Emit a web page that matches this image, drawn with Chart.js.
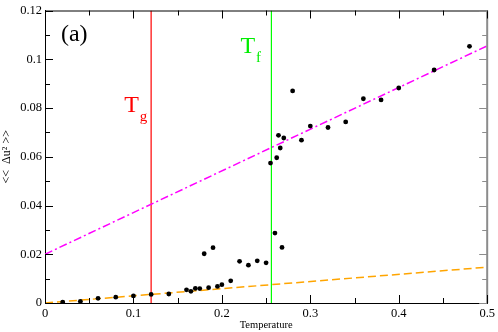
<!DOCTYPE html>
<html>
<head>
<meta charset="utf-8">
<script src="https://cdn.jsdelivr.net/npm/chart.js@4/dist/chart.umd.min.js"></script>
<style>
  html, body { margin: 0; padding: 0; background: #fff; }
  #wrap { width: 498px; height: 332px; }
</style>
</head>
<body>
<div id="wrap"><canvas id="c" width="498" height="332"></canvas></div>
<script>
// ---- data ----
const temperature = [0.02,0.04,0.06,0.08,0.10,0.12,0.14,0.16,0.165,0.17,0.175,0.18,0.185,0.19,0.195,0.20,0.21,0.22,0.23,0.24,0.25,0.255,0.26,0.262,0.264,0.266,0.268,0.27,0.28,0.29,0.30,0.32,0.34,0.36,0.38,0.40,0.44,0.48];
const msd = [0.0004,0.0007,0.0019,0.0024,0.0029,0.0035,0.0037,0.0054,0.0048,0.0060,0.0059,0.0202,0.0063,0.0227,0.0068,0.0075,0.0091,0.0171,0.0155,0.0173,0.0165,0.0574,0.0287,0.0596,0.0688,0.0636,0.0228,0.0677,0.0870,0.0668,0.0726,0.0720,0.0743,0.0838,0.0833,0.0882,0.0956,0.1053];
const highFitX = [0, 0.5];
const highFitY = [0.02, 0.1055];
const lowFitX = [0, 0.5];
const lowFitY = [0, 0.0147];
const Tg = 0.12;
const Tf = 0.256;
const yRange = [0, 0.12];
const xRange = [0, 0.5];
const xTickLabels = ["0","0.1","0.2","0.3","0.4","0.5"];
const yTickLabels = ["0","0.02","0.04","0.06","0.08","0.1","0.12"];

const pts = (xs, ys) => xs.map((x, i) => ({x, y: ys[i]}));
const SERIF = "'Liberation Serif', 'DejaVu Serif', serif";

const decor = {
  id: 'decor',
  afterDatasetsDraw(chart) {
    const ctx = chart.ctx;
    const xs = chart.scales.x, ys = chart.scales.y;
    const a = chart.chartArea;
    ctx.save();
    // top & right frame
    ctx.lineWidth = 1;
    ctx.strokeStyle = '#000';
    ctx.beginPath();
    ctx.moveTo(a.left, a.top + 0.5); ctx.lineTo(a.right, a.top + 0.5);
    ctx.stroke();
    ctx.strokeStyle = '#8c8c8c';
    ctx.lineWidth = 2;
    ctx.beginPath();
    ctx.moveTo(a.right, a.top); ctx.lineTo(a.right, a.bottom);
    ctx.stroke();
    // ticks inward
    ctx.lineWidth = 1;
    for (let k = 0; k <= 10; k++) {
      const v = k * 0.05;
      const px = Math.round(xs.getPixelForValue(v)) + 0.5;
      const len = (k % 2 === 0) ? 8 : 5;
      ctx.strokeStyle = '#000';
      ctx.beginPath();
      ctx.moveTo(px, a.bottom); ctx.lineTo(px, a.bottom - len);
      ctx.moveTo(px, a.top); ctx.lineTo(px, a.top + len);
      ctx.stroke();
    }
    for (let k = 0; k <= 12; k++) {
      const v = k * 0.01;
      const py = Math.round(ys.getPixelForValue(v)) + 0.5;
      const len = (k % 2 === 0) ? 8 : 5;
      ctx.strokeStyle = '#000';
      ctx.beginPath();
      ctx.moveTo(a.left, py); ctx.lineTo(a.left + len, py);
      ctx.stroke();
      ctx.strokeStyle = '#8c8c8c';
      ctx.beginPath();
      ctx.moveTo(a.right, py); ctx.lineTo(a.right - len, py);
      ctx.stroke();
    }
    // annotations
    ctx.textBaseline = 'alphabetic';
    ctx.textAlign = 'left';
    ctx.fillStyle = '#000';
    ctx.font = '24px ' + SERIF;
    ctx.fillText('(a)', xs.getPixelForValue(0.018), ys.getPixelForValue(0.1075));

    const sub = (txt, s, color, xv, yv) => {
      const x0 = xs.getPixelForValue(xv), y0 = ys.getPixelForValue(yv);
      ctx.fillStyle = color;
      ctx.font = '24px ' + SERIF;
      ctx.fillText(txt, x0, y0);
      const w = ctx.measureText(txt).width;
      ctx.font = '15px ' + SERIF;
      ctx.fillText(s, x0 + w + 1, y0 + 9);
    };
    sub('T', 'g', '#ff0000', 0.0895, 0.0782);
    sub('T', 'f', '#00ee00', 0.221, 0.1026);
    ctx.restore();
  }
};

new Chart(document.getElementById('c'), {
  type: 'scatter',
  data: {
    datasets: [
      { data: pts(temperature, msd), showLine: false, pointRadius: 2.4, pointBackgroundColor: '#000', pointBorderWidth: 0, borderColor: '#000' },
      { data: pts(highFitX, highFitY), showLine: true, pointRadius: 0, borderColor: '#ff00ff', borderWidth: 1.5, borderDash: [8, 3, 2, 3] },
      { data: pts(lowFitX, lowFitY), showLine: true, pointRadius: 0, borderColor: '#ffa500', borderWidth: 1.5, borderDash: [8, 4] },
      { data: pts([Tg, Tg], yRange), showLine: true, pointRadius: 0, borderColor: '#ff0000', borderWidth: 1.2 },
      { data: pts([Tf, Tf], yRange), showLine: true, pointRadius: 0, borderColor: '#00ff00', borderWidth: 1.2 }
    ]
  },
  options: {
    responsive: false,
    animation: false,
    events: [],
    layout: { padding: { top: 5, right: 8, left: 0, bottom: 0 } },
    plugins: { legend: { display: false }, tooltip: { enabled: false } },
    scales: {
      x: {
        type: 'linear', min: xRange[0], max: xRange[1],
        grid: { display: false, drawTicks: false },
        border: { display: true, color: '#000', width: 1 },
        ticks: { stepSize: 0.1, padding: 3, color: '#000', font: { family: SERIF, size: 12.5 },
                 callback: (v) => xTickLabels[Math.round(v * 10)] },
        title: { display: true, text: 'Temperature', color: '#000', font: { family: SERIF, size: 10.5 }, padding: 0 },
        afterFit: (s) => { s.height = 29; }
      },
      y: {
        type: 'linear', min: yRange[0], max: yRange[1],
        grid: { display: false, drawTicks: false },
        border: { display: true, color: '#000', width: 1 },
        ticks: { stepSize: 0.02, padding: 3, color: '#000', font: { family: SERIF, size: 12.5 },
                 callback: (v) => yTickLabels[Math.round(v * 50)] },
        title: { display: true, text: '<<  \u0394u\u00B2 >>', color: '#000', font: { family: SERIF, size: 12 }, padding: 0 },
        afterFit: (s) => { s.width = 45; }
      }
    }
  },
  plugins: [decor]
});
</script>
</body>
</html>
